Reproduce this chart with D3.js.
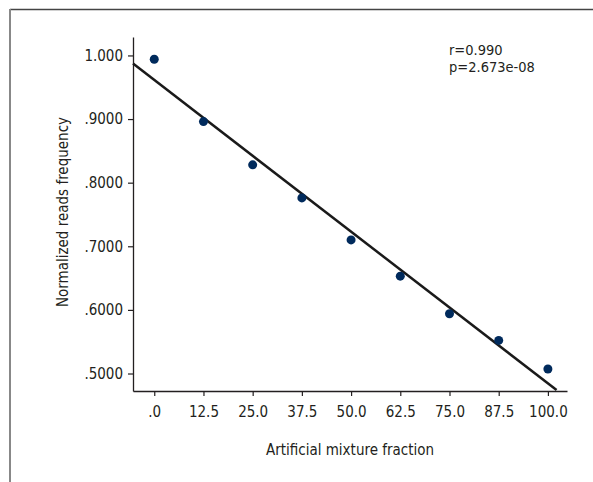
<!DOCTYPE html>
<html>
<head>
<meta charset="utf-8">
<script src="https://cdn.jsdelivr.net/npm/d3@7"></script>
<style>
  body { margin: 0; background: #fff; }
  svg { display: block; }
  text { font-family: "DejaVu Sans Condensed", "Liberation Sans Narrow", sans-serif; fill: #231f20; }
</style>
</head>
<body>
<div id="chart"></div>
<script>
// mixture fractions on the x axis
var fractions = [0, 12.5, 25, 37.5, 50, 62.5, 75, 87.5, 100];
// normalized reads frequency
var frequency = [0.994, 0.896, 0.828, 0.776, 0.710, 0.653, 0.594, 0.552, 0.507];
var xTickValues = [0, 12.5, 25, 37.5, 50, 62.5, 75, 87.5, 100];
var xTickLabels = [".0", "12.5", "25.0", "37.5", "50.0", "62.5", "75.0", "87.5", "100.0"];
var yTickValues = [1.0, 0.9, 0.8, 0.7, 0.6, 0.5];
var yTickLabels = ["1.000", ".9000", ".8000", ".7000", ".6000", ".5000"];
// fitted line shown in the figure
var fitIntercept = 0.9615;
var fitSlope = -0.00477;
var fitRange = [-5.4, 102.2];
var statLines = ["r=0.990", "p=2.673e-08"];

var width = 593, height = 482;
var fontSize = "15px";

var svg = d3.select("#chart")
  .append("svg")
  .attr("width", width)
  .attr("height", height);

// outer frame (only top and left edges visible)
svg.append("line")
  .attr("x1", 10).attr("y1", 9.5).attr("x2", width).attr("y2", 9.5)
  .style("stroke", "#444").style("stroke-width", 1.5);
svg.append("line")
  .attr("x1", 10).attr("y1", 9).attr("x2", 10).attr("y2", height)
  .style("stroke", "#888").style("stroke-width", 2);

var x = d3.scaleLinear().domain([-5.4, 104.85]).range([133, 567]);
var y = d3.scaleLinear().domain([0.4725, 1.029]).range([391, 37]);

var xAxis = d3.axisBottom(x)
  .tickValues(xTickValues)
  .tickSize(5)
  .tickSizeOuter(0)
  .tickPadding(10)
  .tickFormat(function (d, i) { return xTickLabels[i]; });

var yAxis = d3.axisLeft(y)
  .tickValues(yTickValues)
  .tickSize(5)
  .tickSizeOuter(0)
  .tickPadding(5)
  .tickFormat(function (d, i) { return yTickLabels[i]; });

var gx = svg.append("g")
  .attr("transform", "translate(0,391)")
  .call(xAxis);
var gy = svg.append("g")
  .attr("transform", "translate(133,0)")
  .call(yAxis);

[gx, gy].forEach(function (g) {
  g.select(".domain").style("stroke", "#231f20").style("stroke-width", 1.3);
  g.selectAll(".tick line").style("stroke", "#231f20").style("stroke-width", 1.2);
  g.selectAll(".tick text")
    .style("font-family", "'DejaVu Sans Condensed', sans-serif")
    .style("font-size", fontSize)
    .style("fill", "#231f20");
});

// axis titles
svg.append("text")
  .attr("x", 350)
  .attr("y", 455)
  .style("text-anchor", "middle")
  .style("font-size", fontSize)
  .text("Artificial mixture fraction");

svg.append("text")
  .attr("transform", "translate(68,212)rotate(-90)")
  .style("text-anchor", "middle")
  .style("font-size", fontSize)
  .text("Normalized reads frequency");

// regression line
svg.append("line")
  .attr("x1", x(fitRange[0]))
  .attr("y1", y(fitIntercept + fitSlope * fitRange[0]))
  .attr("x2", x(fitRange[1]))
  .attr("y2", y(fitIntercept + fitSlope * fitRange[1]))
  .style("stroke", "#1a1a1a")
  .style("stroke-width", 2.5);

// data points
svg.selectAll("circle.pt")
  .data(fractions)
  .enter()
  .append("circle")
  .attr("class", "pt")
  .attr("cx", function (d) { return x(d); })
  .attr("cy", function (d, i) { return y(frequency[i]); })
  .attr("r", 4.5)
  .style("fill", "#002a5c");

// statistics text
svg.selectAll("text.stat")
  .data(statLines)
  .enter()
  .append("text")
  .attr("class", "stat")
  .attr("x", 449)
  .attr("y", function (d, i) { return 55 + i * 17; })
  .style("font-size", "14.5px")
  .text(function (d) { return d; });
</script>
</body>
</html>
